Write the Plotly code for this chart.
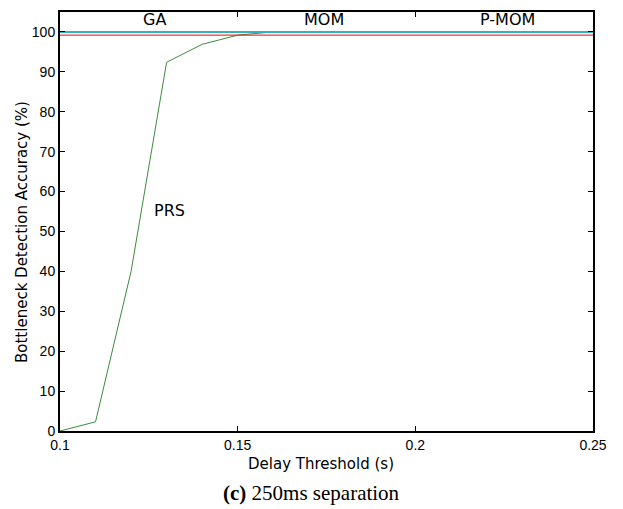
import plotly.graph_objects as go

thresholds = [0.10, 0.11, 0.12, 0.13, 0.14, 0.15, 0.16, 0.17, 0.18, 0.19, 0.20, 0.21, 0.22, 0.23, 0.24, 0.25]
prs = [0.0, 2.3, 40.0, 92.4, 96.9, 99.2, 100, 100, 100, 100, 100, 100, 100, 100, 100, 100]
ga = [100] * 16
mom = [99.2] * 16
pmom = [100] * 16

x_ticks = [0.1, 0.15, 0.2, 0.25]
x_tick_text = ["0.1", "0.15", "0.2", "0.25"]
y_ticks = list(range(0, 101, 10))

fig = go.Figure()
fig.add_trace(go.Scatter(x=thresholds, y=ga, mode="lines", line=dict(color="#0000ff", width=1.5), name="GA"))
fig.add_trace(go.Scatter(x=thresholds, y=prs, mode="lines", line=dict(color="#3c8c3c", width=1), name="PRS"))
fig.add_trace(go.Scatter(x=thresholds, y=mom, mode="lines", line=dict(color="#ff0000", width=1), name="MOM"))
fig.add_trace(go.Scatter(x=thresholds, y=pmom, mode="lines", line=dict(color="#30b4c0", width=2), name="P-MOM"))

label_font = dict(family="DejaVu Sans", size=16, color="black")
for txt, xv, yv in [("GA", 0.1267, 103.1), ("MOM", 0.1744, 103.1), ("P-MOM", 0.226, 103.1), ("PRS", 0.1309, 55.3)]:
    fig.add_annotation(x=xv, y=yv, text=txt, showarrow=False, font=label_font,
                       xanchor="center", yanchor="middle")

axis_common = dict(showline=True, linecolor="black", linewidth=2, mirror="ticks",
                   ticks="inside", ticklen=5, tickwidth=1, tickcolor="black",
                   showgrid=False, zeroline=False,
                   tickfont=dict(family="Liberation Sans", size=14, color="black"))

fig.update_layout(
    width=623, height=509,
    margin=dict(l=60, r=30, t=10, b=78),
    paper_bgcolor="white", plot_bgcolor="white",
    showlegend=False,
    xaxis=dict(range=[0.1, 0.25], tickvals=x_ticks, ticktext=x_tick_text, **axis_common),
    yaxis=dict(range=[0, 105], tickvals=y_ticks, **axis_common),
)

fig.add_annotation(xref="paper", yref="paper", x=0.49, y=0, yshift=-33,
                   text="Delay Threshold (s)", showarrow=False,
                   font=dict(family="DejaVu Sans", size=15, color="black"),
                   xanchor="center", yanchor="middle")
fig.add_annotation(xref="paper", yref="paper", x=0, y=0.475, xshift=-38,
                   text="Bottleneck Detection Accuracy (%)", showarrow=False, textangle=-90,
                   font=dict(family="DejaVu Sans", size=15, color="black"),
                   xanchor="center", yanchor="middle")
fig.add_annotation(xref="paper", yref="paper", x=0.471, y=0, yshift=-62,
                   text="<b>(c)</b> 250ms separation", showarrow=False,
                   font=dict(family="Liberation Serif", size=21, color="black"),
                   xanchor="center", yanchor="middle")

fig.write_html("out.html", config={"displayModeBar": False},
               post_script="document.body.style.margin='0';")
